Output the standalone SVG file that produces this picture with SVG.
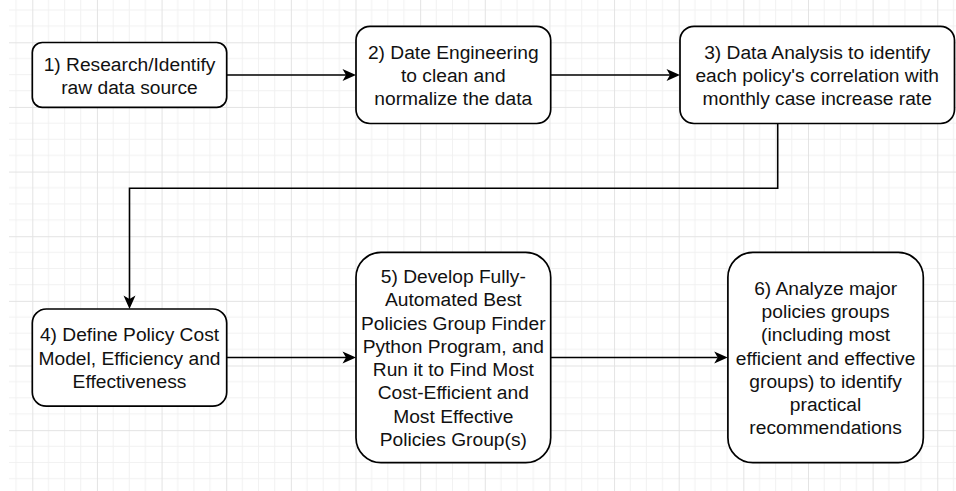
<svg xmlns="http://www.w3.org/2000/svg" width="956" height="491" viewBox="0 0 956 491">
<style>
.box{fill:#fff;stroke:#000;stroke-width:1.7}
.lbl{font-family:"Liberation Sans",Arial,sans-serif;font-size:19.2px;fill:#111;text-anchor:middle}
.conn{fill:none;stroke:#000;stroke-width:1.6}
</style>
<defs>
<pattern id="grid" patternUnits="userSpaceOnUse" x="32.3" y="42.3" width="64.64" height="64.64">
<path d="M16.16,0V64.64M32.32,0V64.64M48.48,0V64.64M0,16.16H64.64M0,32.32H64.64M0,48.48H64.64" stroke="#f1f1f1" stroke-width="1" fill="none"/>
<path d="M0.5,0V64.64M0,0.5H64.64" stroke="#e3e3e3" stroke-width="1" fill="none"/>
</pattern>
<marker id="arr" markerUnits="userSpaceOnUse" viewBox="-14 -7 15 14" markerWidth="15" markerHeight="14" refX="-10" refY="0" orient="auto">
<path d="M0,0 L-13.5,-6 L-10,0 L-13.5,6 Z" fill="#000"/>
</marker>
</defs>
<rect width="956" height="491" fill="#fff"/>
<rect x="9" y="0" width="947" height="491" fill="url(#grid)"/>
<g id="connectors">
<path class="conn" d="M226.7,75 H346" marker-end="url(#arr)"/>
<path class="conn" d="M550.7,75 H670" marker-end="url(#arr)"/>
<path class="conn" d="M777.7,123.5 V188.3 H129.5 V299" marker-end="url(#arr)"/>
<path class="conn" d="M226.7,357.5 H346" marker-end="url(#arr)"/>
<path class="conn" d="M550.7,357.5 H717.7" marker-end="url(#arr)"/>
</g>
<g id="node1">
<rect class="box" x="32.3" y="42.5" width="194.4" height="64.8" rx="10"/>
<text class="lbl" x="129.5" y="70.5">1) Research/Identify</text>
<text class="lbl" x="129.5" y="93.8">raw data source</text>
</g>
<g id="node2">
<rect class="box" x="356" y="26.3" width="194.7" height="97.2" rx="14"/>
<text class="lbl" x="453.3" y="58.6">2) Date Engineering</text>
<text class="lbl" x="453.3" y="81.9">to clean and</text>
<text class="lbl" x="453.3" y="105.2">normalize the data</text>
</g>
<g id="node3">
<rect class="box" x="680" y="26.3" width="274.5" height="97.2" rx="14"/>
<text class="lbl" x="817.2" y="58.6">3) Data Analysis to identify</text>
<text class="lbl" x="817.2" y="81.9">each policy's correlation with</text>
<text class="lbl" x="817.2" y="105.2">monthly case increase rate</text>
</g>
<g id="node4">
<rect class="box" x="32.3" y="309" width="194.4" height="97.2" rx="14"/>
<text class="lbl" x="129.5" y="341.4">4) Define Policy Cost</text>
<text class="lbl" x="129.5" y="364.7">Model, Efficiency and</text>
<text class="lbl" x="129.5" y="388">Effectiveness</text>
</g>
<g id="node5">
<rect class="box" x="356" y="252.3" width="194.7" height="210.4" rx="25"/>
<text class="lbl" x="453.3" y="282.9">5) Develop Fully-</text>
<text class="lbl" x="453.3" y="306.2">Automated Best</text>
<text class="lbl" x="453.3" y="329.5">Policies Group Finder</text>
<text class="lbl" x="453.3" y="352.8">Python Program, and</text>
<text class="lbl" x="453.3" y="376.1">Run it to Find Most</text>
<text class="lbl" x="453.3" y="399.4">Cost-Efficient and</text>
<text class="lbl" x="453.3" y="422.7">Most Effective</text>
<text class="lbl" x="453.3" y="446">Policies Group(s)</text>
</g>
<g id="node6">
<rect class="box" x="727.9" y="252.3" width="195.4" height="210.4" rx="25"/>
<text class="lbl" x="825.6" y="294.6">6) Analyze major</text>
<text class="lbl" x="825.6" y="317.9">policies groups</text>
<text class="lbl" x="825.6" y="341.2">(including most</text>
<text class="lbl" x="825.6" y="364.5">efficient and effective</text>
<text class="lbl" x="825.6" y="387.8">groups) to identify</text>
<text class="lbl" x="825.6" y="411.1">practical</text>
<text class="lbl" x="825.6" y="434.4">recommendations</text>
</g>
</svg>
